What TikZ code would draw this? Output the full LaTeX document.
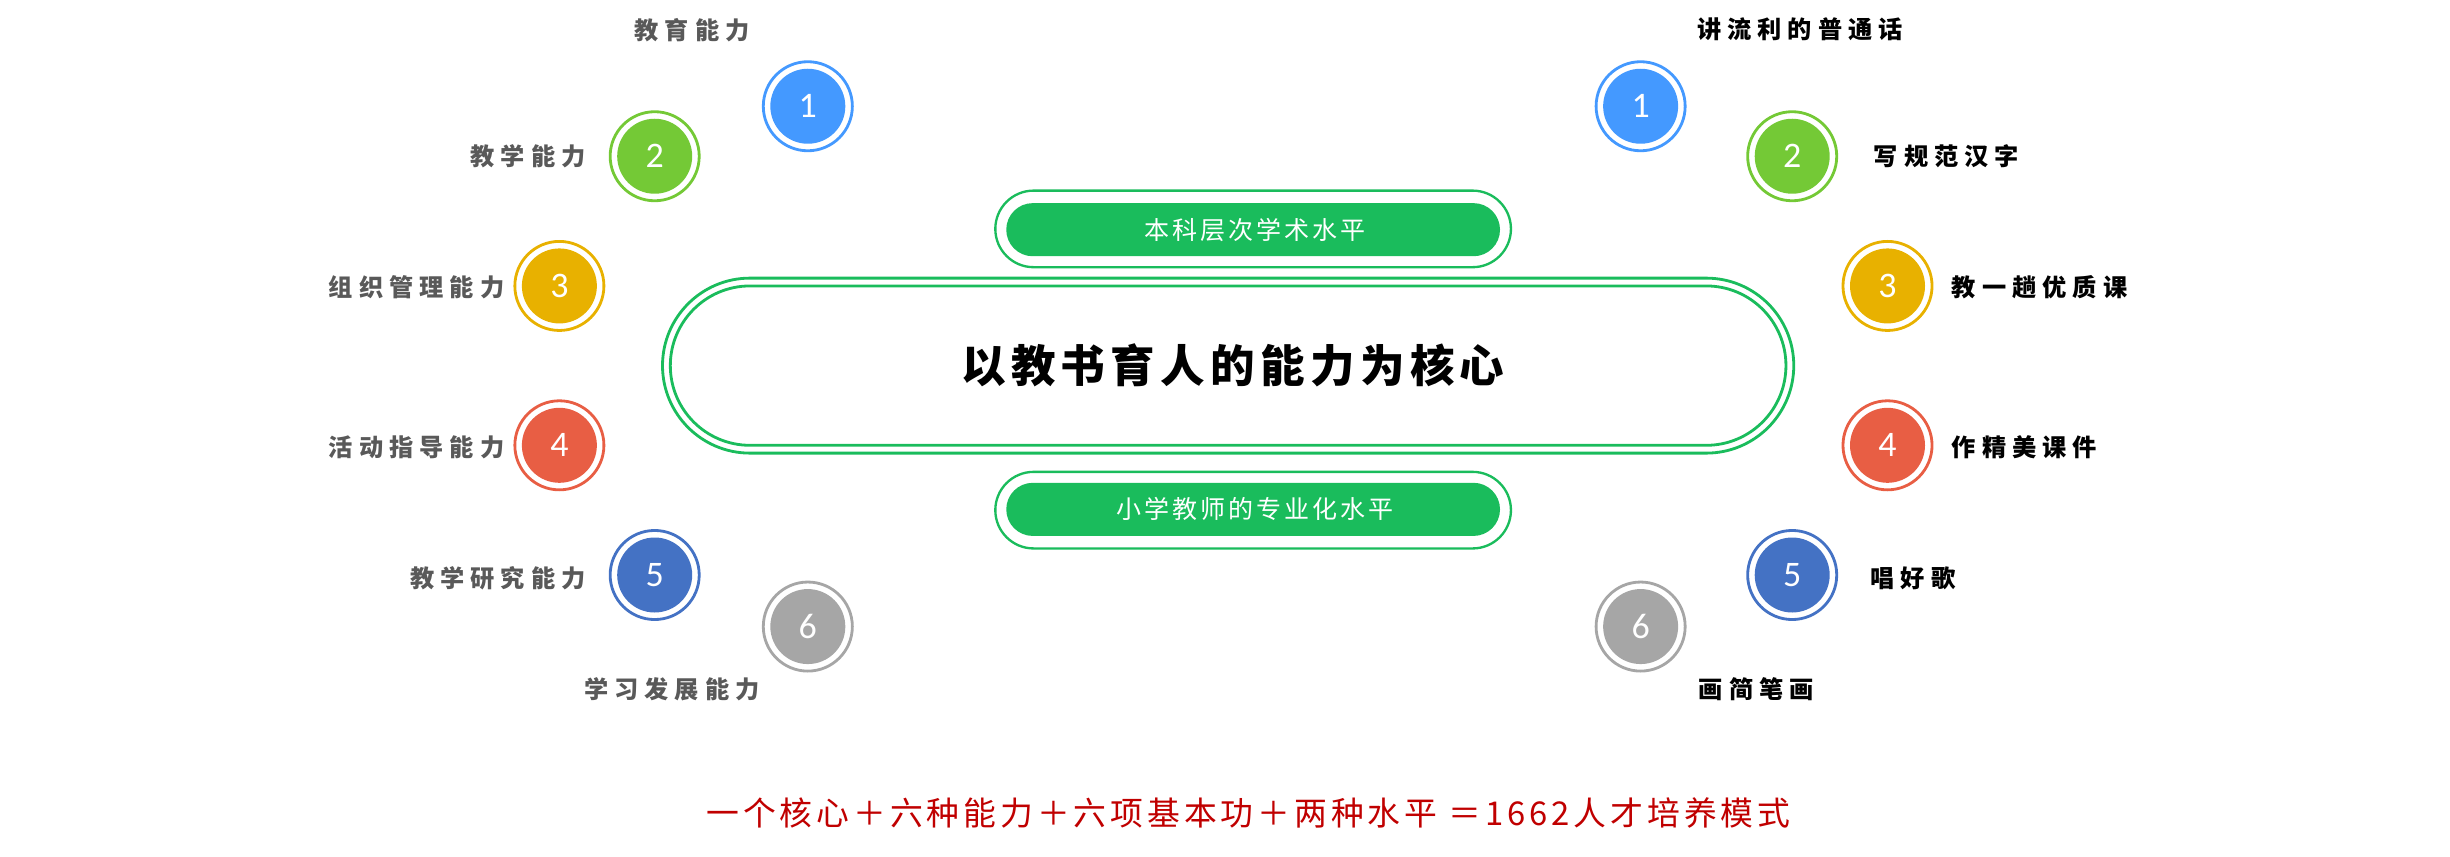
\documentclass[tikz,border=0pt]{standalone}
\usepackage{fontspec}
\newfontfamily\cjk[LetterSpace=25]{Noto Sans CJK SC}
\newfontfamily\cjkb[LetterSpace=12]{Noto Sans CJK SC}
\newfontfamily\numfont{Carlito}
\definecolor{cBlueA}{HTML}{4499FF}
\definecolor{cGreen}{HTML}{74C936}
\definecolor{cAmber}{HTML}{E8B100}
\definecolor{cRed}{HTML}{E85E44}
\definecolor{cBlueB}{HTML}{4472C4}
\definecolor{cGray}{HTML}{A6A6A6}
\definecolor{cPill}{HTML}{1ABC5C}
\definecolor{cLabL}{HTML}{595959}
\definecolor{cBottom}{HTML}{C00000}
\tikzset{
  dot/.style={circle, fill=#1, minimum size=48pt, inner sep=0pt, text=white,
    font=\numfont\fontsize{23}{23}\selectfont},
  ring/.style={draw=#1, line width=1.8pt},
  labl/.style={text=cLabL, font=\cjk\bfseries\fontsize{15.5}{15.5}\selectfont, inner sep=0pt},
  labr/.style={text=black, font=\cjk\bfseries\fontsize{15.5}{15.5}\selectfont, inner sep=0pt},
  pilltext/.style={text=white, font=\cjkb\fontsize{16}{16}\selectfont},
}
\begin{document}
\begin{tikzpicture}[x=1pt,y=-1pt]
\useasboundingbox (0,0) rectangle (1568,548);
% left circles
\node[dot=cBlueA] (l1) at (517,68) {1};
\node[dot=cGreen] (l2) at (419,100) {2};
\node[dot=cAmber] (l3) at (358,183) {3};
\node[dot=cRed]   (l4) at (358,285) {4};
\node[dot=cBlueB] (l5) at (419,368) {5};
\node[dot=cGray]  (l6) at (517,401) {6};
% right circles
\node[dot=cBlueA] (r1) at (1050,68) {1};
\node[dot=cGreen] (r2) at (1147,100) {2};
\node[dot=cAmber] (r3) at (1208,183) {3};
\node[dot=cRed]   (r4) at (1208,285) {4};
\node[dot=cBlueB] (r5) at (1147,368) {5};
\node[dot=cGray]  (r6) at (1050,401) {6};
\foreach \n/\c in {l1/cBlueA,l2/cGreen,l3/cAmber,l4/cRed,l5/cBlueB,l6/cGray,
                   r1/cBlueA,r2/cGreen,r3/cAmber,r4/cRed,r5/cBlueB,r6/cGray}
  \draw[ring=\c] (\n.center) circle (28.5);
% left labels
\node[labl] (tl1) at (443,19) {教育能力};
\node[labl, anchor=east] (tl2) at (375,100) {教学能力};
\node[labl, anchor=east] (tl3) at (323,184) {组织管理能力};
\node[labl, anchor=east] (tl4) at (323,286) {活动指导能力};
\node[labl, anchor=east] (tl5) at (375,370) {教学研究能力};
\node[labl] (tl6) at (430,441) {学习发展能力};
% right labels
\node[labr] (tr1) at (1152,19) {讲流利的普通话};
\node[labr, anchor=west] (tr2) at (1199,100) {写规范汉字};
\node[labr, anchor=west] (tr3) at (1249,184) {教一趟优质课};
\node[labr, anchor=west] (tr4) at (1249,286) {作精美课件};
\node[labr, anchor=west] (tr5) at (1197,370) {唱好歌};
\node[labr] (tr6) at (1124,441) {画简笔画};
% main box
\draw[cPill, line width=1.8pt, rounded corners=56pt] (424,178) rectangle (1148,290);
\draw[cPill, line width=1.8pt, rounded corners=51pt] (429,183) rectangle (1143,285);
\node[font=\cjkb\bfseries\fontsize{28.5}{28.5}\selectfont] (core) at (789,234) {以教书育人的能力为核心};
% top pill
\draw[cPill, line width=1.5pt, rounded corners=24.5pt] (637,122) rectangle (967,171);
\fill[cPill, rounded corners=17pt] (644,130) rectangle (960,164);
\node[pilltext] (top) at (803,147) {本科层次学术水平};
% bottom pill
\draw[cPill, line width=1.5pt, rounded corners=24.5pt] (637,302) rectangle (967,351);
\fill[cPill, rounded corners=17pt] (644,309) rectangle (960,343);
\node[pilltext] (bot) at (803,326) {小学教师的专业化水平};
% bottom caption
\node[text=cBottom, font=\cjkb\fontsize{21}{21}\selectfont] (cap) at (799,520) {一个核心＋六种能力＋六项基本功＋两种水平 ＝1662人才培养模式};
\end{tikzpicture}
\end{document}
